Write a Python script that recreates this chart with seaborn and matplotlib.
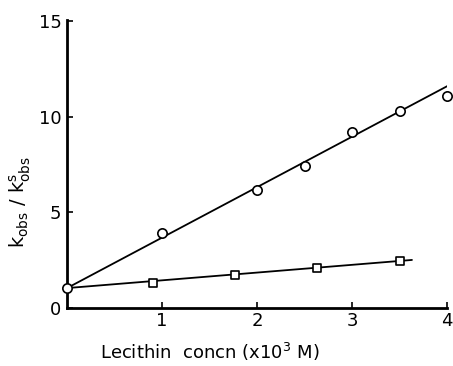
import matplotlib
matplotlib.use("Agg")
import matplotlib.pyplot as plt
import seaborn as sns
import pandas as pd

# Data
circle_x = [0.0, 1.0, 2.0, 2.5, 3.0, 3.5, 4.0]
circle_y = [1.05, 3.95, 6.15, 7.45, 9.2, 10.3, 11.1]
square_x = [0.9, 1.77, 2.63, 3.5]
square_y = [1.33, 1.75, 2.09, 2.47]
fit1_x = [0.0, 4.02]
fit1_y = [1.05, 11.65]
fit2_x = [0.0, 3.63]
fit2_y = [1.05, 2.52]
xticks = [1, 2, 3, 4]
yticks = [0, 5, 10, 15]

sns.set_style("ticks")
plt.rcParams['font.family'] = ['DejaVu Sans']
plt.rcParams['text.color'] = 'black'
plt.rcParams['axes.labelcolor'] = 'black'
plt.rcParams['xtick.color'] = 'black'
plt.rcParams['ytick.color'] = 'black'
plt.rcParams['axes.edgecolor'] = 'black'

fig = plt.figure(figsize=(4.53, 3.66), dpi=100)
ax = fig.add_axes([0.148, 0.158, 0.839, 0.787])

sns.lineplot(x=fit1_x, y=fit1_y, ax=ax, color="black", lw=1.3)
sns.lineplot(x=fit2_x, y=fit2_y, ax=ax, color="black", lw=1.3)
sns.scatterplot(x=square_x, y=square_y, ax=ax, marker="s", s=40,
                facecolor="white", edgecolor="black", linewidth=1.2, zorder=5)
sns.scatterplot(x=circle_x, y=circle_y, ax=ax, marker="o", s=45,
                facecolor="white", edgecolor="black", linewidth=1.2, zorder=5,
                clip_on=False)

ax.set_xlim(0, 4.0)
ax.set_ylim(0, 15.05)
ax.set_xticks(xticks)
ax.set_yticks(yticks)
ax.set_xticklabels([str(t) for t in xticks])
ax.set_yticklabels([str(t) for t in yticks])
ax.tick_params(direction="in", length=4, width=1.2, labelsize=13)
ax.tick_params(axis="x", pad=3)
ax.tick_params(axis="y", pad=4)
for s in ["top", "right"]:
    ax.spines[s].set_visible(False)
for s in ["left", "bottom"]:
    ax.spines[s].set_linewidth(2.0)

ax.set_xlabel(r"Lecithin  concn (x10$^3$ M)", fontsize=13)
ax.xaxis.set_label_coords(0.376, -0.115)
ax.set_ylabel(r"k$_{\rm obs}$ / k$^{\rm s}_{\rm obs}$", fontsize=14)
ax.yaxis.set_label_coords(-0.09, 0.37)

fig.savefig("out.png", dpi=100)
